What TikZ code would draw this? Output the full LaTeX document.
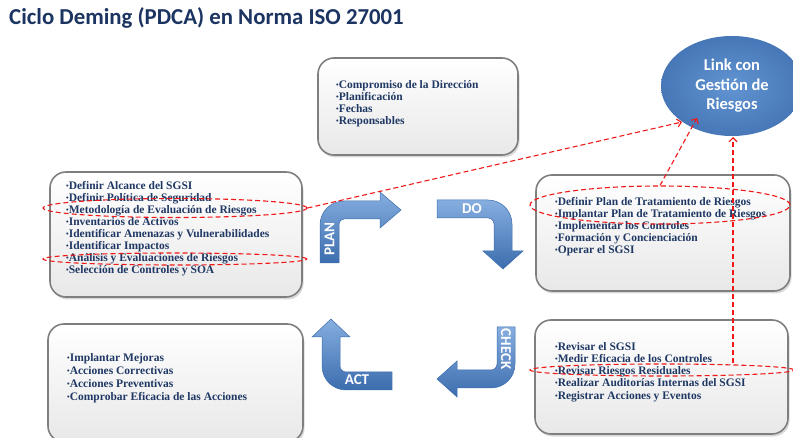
\documentclass[tikz,border=0pt]{standalone}
\usepackage{fontspec}
\setmainfont{Liberation Serif}
\newfontfamily\calib{Carlito}
\usetikzlibrary{shapes.geometric,arrows.meta,shadows}
\definecolor{navy}{HTML}{1F3864}
\definecolor{titleblue}{HTML}{1B3461}
\definecolor{arrowdark}{HTML}{3C6DAE}
\definecolor{arrowlight}{HTML}{86AEE0}
\definecolor{linkin}{HTML}{6194D2}
\definecolor{linkout}{HTML}{4777B6}
\definecolor{boxgray}{HTML}{7F7F7F}
\definecolor{riskred}{HTML}{F01818}
\newcommand\mybul{{\fontsize{7.5}{7.5}\selectfont\raisebox{1pt}{•}}}
\begin{document}
\begin{tikzpicture}[x=1pt,y=-1pt,
  box/.style={draw=boxgray, line width=1.6pt, rounded corners=16pt, top color=white, bottom color=black!9,
    drop shadow={opacity=0.3, shadow xshift=1.5pt, shadow yshift=-2.5pt}, inner sep=0},
  bultext/.style={anchor=north west, inner sep=0, align=left, text=navy, font=\bfseries\fontsize{11.5}{12.1}\selectfont},
  cyc/.style={draw=arrowdark, line width=0.5pt, top color=arrowlight, bottom color=arrowdark},
  cyclabel/.style={text=white, font=\calib\bfseries\fontsize{15}{15}\selectfont, inner sep=0},
  riskring/.style={ellipse, draw=riskred, line width=1.1pt, dash pattern=on 5pt off 3pt, inner sep=0},
  risklink/.style={draw=riskred, line width=1.1pt, dash pattern=on 5pt off 3pt, -{Straight Barb[length=4pt,width=8pt]}},
]
\useasboundingbox (0,0) rectangle (793,438);

% title
\node[anchor=west, inner sep=0, text=titleblue, font=\calib\bfseries\fontsize{22.8}{22.8}\selectfont] (title) at (9,17.5) {Ciclo Deming (PDCA) en Norma ISO 27001};

% boxes
\node[box, minimum width=200pt, minimum height=97pt] (plantop) at (418,106.5) {};
\node[box, minimum width=252pt, minimum height=125pt] (planbox) at (176,234.5) {};
\node[box, minimum width=254pt, minimum height=116pt] (dobox) at (663,233) {};
\node[box, minimum width=255pt, minimum height=118pt] (actbox) at (175.5,383) {};
\node[box, minimum width=253pt, minimum height=114pt] (checkbox) at (661.5,377) {};

% texts
\node[bultext] (plantoptxt) at (336,80) {\mybul Compromiso de la Dirección\\\mybul Planificación\\\mybul Fechas\\\mybul Responsables};
\node[bultext] (plantxt) at (66,181) {\mybul Definir Alcance del SGSI\\\mybul Definir Política de Seguridad\\\mybul Metodología de Evaluación de Riesgos\\\mybul Inventarios de Activos\\\mybul Identificar Amenazas y Vulnerabilidades\\\mybul Identificar Impactos\\\mybul Análisis y Evaluaciones de Riesgos\\\mybul Selección de Controles y SOA};
\node[bultext] (dotxt) at (555,197) {\mybul Definir Plan de Tratamiento de Riesgos\\\mybul Implantar Plan de Tratamiento de Riesgos\\\mybul Implementar los Controles\\\mybul Formación y Concienciación\\\mybul Operar el SGSI};
\node[bultext, font=\bfseries\fontsize{11.5}{13}\selectfont] (acttxt) at (67,353) {\mybul Implantar Mejoras\\\mybul Acciones Correctivas\\\mybul Acciones Preventivas\\\mybul Comprobar Eficacia de las Acciones};
\node[bultext, font=\bfseries\fontsize{11.5}{12.25}\selectfont] (checktxt) at (555,342) {\mybul Revisar el SGSI\\\mybul Medir Eficacia de los Controles\\\mybul Revisar Riesgos Residuales\\\mybul Realizar Auditorías Internas del SGSI\\\mybul Registrar Acciones y Eventos};

% cycle arrows
\path[cyc] (320,263) -- (320,225) .. controls (320,211.7) and (330.7,201) .. (344,201) -- (380,201) -- (380,192) -- (401,210) -- (380,228) -- (380,219) -- (344,219) .. controls (341.2,219) and (339,221.2) .. (339,224) -- (339,263) -- cycle;
\path[cyc] (437,200) -- (488,200) .. controls (501.3,200) and (512,210.7) .. (512,224) -- (512,251) -- (523,251) -- (503,269) -- (483,251) -- (494,251) -- (494,224) .. controls (494,220.7) and (491.3,218) .. (488,218) -- (437,218) -- cycle;
\path[cyc] (497,327) -- (515,327) -- (515,364) .. controls (515,377.3) and (504.3,388) .. (491,388) -- (457,388) -- (457,397) -- (437,379) -- (457,361) -- (457,370) -- (491,370) .. controls (494.3,370) and (497,367.3) .. (497,364) -- cycle;
\path[cyc] (392,372) -- (392,390) -- (346,390) .. controls (332.7,390) and (322,379.3) .. (322,366) -- (322,337) -- (312,337) -- (331,319) -- (350,337) -- (340,337) -- (340,366) .. controls (340,369.3) and (342.7,372) .. (346,372) -- cycle;

\node[cyclabel, rotate=90] (plan) at (329.5,239) {PLAN};
\node[cyclabel] (do) at (472,209) {DO};
\node[cyclabel, rotate=-90] (check) at (506,349) {CHECK};
\node[cyclabel] (act) at (357,380) {ACT};

% link ellipse
\node[ellipse, minimum width=142pt, minimum height=100pt, inner sep=0, inner color=linkin, outer color=linkout,
  align=center, text=white, font=\calib\bfseries\fontsize{16.5}{19.5}\selectfont] (link) at (732,86) {Link con\\Gestión de\\Riesgos};

% risk rings
\node[riskring, minimum width=264pt, minimum height=19pt] (r1) at (175,208) {};
\node[riskring, minimum width=264pt, minimum height=12pt] (r2) at (175,259) {};
\node[riskring, minimum width=260pt, minimum height=38pt] (r3) at (660,205) {};
\node[riskring, minimum width=264pt, minimum height=12pt] (r4) at (662,370) {};

\coordinate (la) at (682,122);
\coordinate (lb) at (697,118);
\coordinate (lc) at (733,137);
\draw[risklink] (r1.east) -- (la);
\draw[risklink] (r3.north) -- (lb);
\draw[risklink] (r4.north -| lc) -- (lc);
\end{tikzpicture}
\end{document}
